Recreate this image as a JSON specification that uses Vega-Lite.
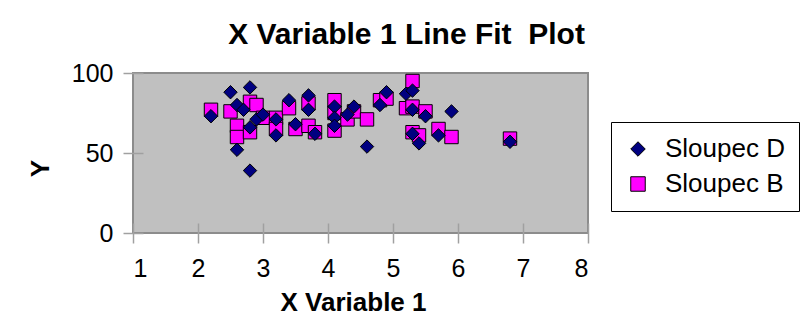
{
  "$schema": "https://vega.github.io/schema/vega-lite/v6.json",
  "width": 455,
  "height": 160,
  "autosize": {"type": "none"},
  "padding": {"left": 133, "top": 73, "right": 215, "bottom": 91},
  "background": "white",
  "title": {
    "text": "X Variable 1 Line Fit\u00a0 Plot",
    "font": "Liberation Sans",
    "fontSize": 30,
    "fontWeight": "bold",
    "color": "black",
    "anchor": "middle",
    "frame": "group",
    "offset": 11,
    "dx": 46
  },
  "data": {
    "values": [
      {"x": 2.2, "y": 77, "s": "Sloupec B"},
      {"x": 2.5, "y": 76, "s": "Sloupec B"},
      {"x": 2.6, "y": 67, "s": "Sloupec B"},
      {"x": 2.6, "y": 60, "s": "Sloupec B"},
      {"x": 2.8, "y": 82, "s": "Sloupec B"},
      {"x": 2.8, "y": 63, "s": "Sloupec B"},
      {"x": 2.9, "y": 80, "s": "Sloupec B"},
      {"x": 3.0, "y": 72, "s": "Sloupec B"},
      {"x": 3.2, "y": 72, "s": "Sloupec B"},
      {"x": 3.2, "y": 65, "s": "Sloupec B"},
      {"x": 3.4, "y": 78, "s": "Sloupec B"},
      {"x": 3.5, "y": 65, "s": "Sloupec B"},
      {"x": 3.7, "y": 81, "s": "Sloupec B"},
      {"x": 3.7, "y": 67, "s": "Sloupec B"},
      {"x": 3.8, "y": 63, "s": "Sloupec B"},
      {"x": 4.1, "y": 83, "s": "Sloupec B"},
      {"x": 4.1, "y": 75, "s": "Sloupec B"},
      {"x": 4.1, "y": 64, "s": "Sloupec B"},
      {"x": 4.3, "y": 71, "s": "Sloupec B"},
      {"x": 4.4, "y": 76, "s": "Sloupec B"},
      {"x": 4.6, "y": 71, "s": "Sloupec B"},
      {"x": 4.8, "y": 83, "s": "Sloupec B"},
      {"x": 4.9, "y": 84, "s": "Sloupec B"},
      {"x": 5.2, "y": 78, "s": "Sloupec B"},
      {"x": 5.3, "y": 95, "s": "Sloupec B"},
      {"x": 5.3, "y": 79, "s": "Sloupec B"},
      {"x": 5.3, "y": 63, "s": "Sloupec B"},
      {"x": 5.4, "y": 61, "s": "Sloupec B"},
      {"x": 5.5, "y": 76, "s": "Sloupec B"},
      {"x": 5.7, "y": 65, "s": "Sloupec B"},
      {"x": 5.9, "y": 60, "s": "Sloupec B"},
      {"x": 6.8, "y": 59, "s": "Sloupec B"},
      {"x": 2.2, "y": 73, "s": "Sloupec D"},
      {"x": 2.5, "y": 88, "s": "Sloupec D"},
      {"x": 2.6, "y": 80, "s": "Sloupec D"},
      {"x": 2.6, "y": 52, "s": "Sloupec D"},
      {"x": 2.7, "y": 77, "s": "Sloupec D"},
      {"x": 2.8, "y": 91, "s": "Sloupec D"},
      {"x": 2.8, "y": 66, "s": "Sloupec D"},
      {"x": 2.8, "y": 39, "s": "Sloupec D"},
      {"x": 2.9, "y": 71, "s": "Sloupec D"},
      {"x": 3.0, "y": 74, "s": "Sloupec D"},
      {"x": 3.2, "y": 71, "s": "Sloupec D"},
      {"x": 3.2, "y": 61, "s": "Sloupec D"},
      {"x": 3.4, "y": 83, "s": "Sloupec D"},
      {"x": 3.5, "y": 68, "s": "Sloupec D"},
      {"x": 3.7, "y": 86, "s": "Sloupec D"},
      {"x": 3.7, "y": 77, "s": "Sloupec D"},
      {"x": 3.8, "y": 62, "s": "Sloupec D"},
      {"x": 4.1, "y": 79, "s": "Sloupec D"},
      {"x": 4.1, "y": 72, "s": "Sloupec D"},
      {"x": 4.1, "y": 67, "s": "Sloupec D"},
      {"x": 4.3, "y": 74, "s": "Sloupec D"},
      {"x": 4.4, "y": 79, "s": "Sloupec D"},
      {"x": 4.6, "y": 54, "s": "Sloupec D"},
      {"x": 4.8, "y": 80, "s": "Sloupec D"},
      {"x": 4.9, "y": 88, "s": "Sloupec D"},
      {"x": 5.2, "y": 87, "s": "Sloupec D"},
      {"x": 5.3, "y": 89, "s": "Sloupec D"},
      {"x": 5.3, "y": 77, "s": "Sloupec D"},
      {"x": 5.3, "y": 62, "s": "Sloupec D"},
      {"x": 5.4, "y": 56, "s": "Sloupec D"},
      {"x": 5.5, "y": 73, "s": "Sloupec D"},
      {"x": 5.7, "y": 61, "s": "Sloupec D"},
      {"x": 5.9, "y": 76, "s": "Sloupec D"},
      {"x": 6.8, "y": 57, "s": "Sloupec D"}
    ]
  },
  "mark": {"type": "point", "filled": true, "size": 180, "stroke": "black", "strokeWidth": 1, "opacity": 1},
  "encoding": {
    "x": {
      "field": "x",
      "type": "quantitative",
      "scale": {"domain": [1, 8], "nice": false, "zero": false},
      "axis": {
        "title": "X Variable 1",
        "values": [1, 2, 3, 4, 5, 6, 7, 8],
        "format": "d",
        "grid": false,
        "domain": false,
        "offset": -10,
        "tickSize": 20,
        "tickColor": "#a0a0a0",
        "tickWidth": 1.5,
        "labelFont": "Liberation Sans",
        "labelFontSize": 25,
        "labelColor": "black",
        "labelBaseline": "alphabetic",
        "labelPadding": 33,
        "titleFont": "Liberation Sans",
        "titleFontSize": 26,
        "titleFontWeight": "bold",
        "titleColor": "black",
        "titleBaseline": "alphabetic",
        "titleX": 220,
        "titleY": 87
      }
    },
    "y": {
      "field": "y",
      "type": "quantitative",
      "scale": {"domain": [0, 100], "nice": false},
      "axis": {
        "title": "Y",
        "values": [0, 50, 100],
        "grid": false,
        "domain": false,
        "offset": -10,
        "tickSize": 20,
        "tickColor": "#a0a0a0",
        "tickWidth": 1.5,
        "labelFont": "Liberation Sans",
        "labelFontSize": 25,
        "labelColor": "black",
        "labelPadding": 10,
        "titleFont": "Liberation Sans",
        "titleFontSize": 26,
        "titleFontWeight": "bold",
        "titleColor": "black",
        "titleAngle": -90,
        "titleAlign": "center",
        "titleBaseline": "alphabetic",
        "titleX": -95,
        "titleY": 95
      }
    },
    "color": {
      "field": "s",
      "type": "nominal",
      "scale": {"domain": ["Sloupec D", "Sloupec B"], "range": ["#000080", "#FF00FF"]},
      "legend": {
        "title": null,
        "orient": "none",
        "legendX": 478,
        "legendY": 49,
        "fillColor": "white",
        "strokeColor": "black",
        "padding": 14,
        "symbolSize": 210,
        "symbolStrokeColor": "black",
        "symbolStrokeWidth": 1,
        "labelFont": "Liberation Sans",
        "labelFontSize": 26,
        "labelColor": "black",
        "labelOffset": 14,
        "rowPadding": 9
      }
    },
    "shape": {
      "field": "s",
      "type": "nominal",
      "scale": {"domain": ["Sloupec D", "Sloupec B"], "range": ["diamond", "square"]}
    }
  },
  "config": {
    "view": {"fill": "#C0C0C0", "stroke": "#8c8c8c", "strokeWidth": 2},
    "legend": {"symbolOpacity": 1}
  }
}
